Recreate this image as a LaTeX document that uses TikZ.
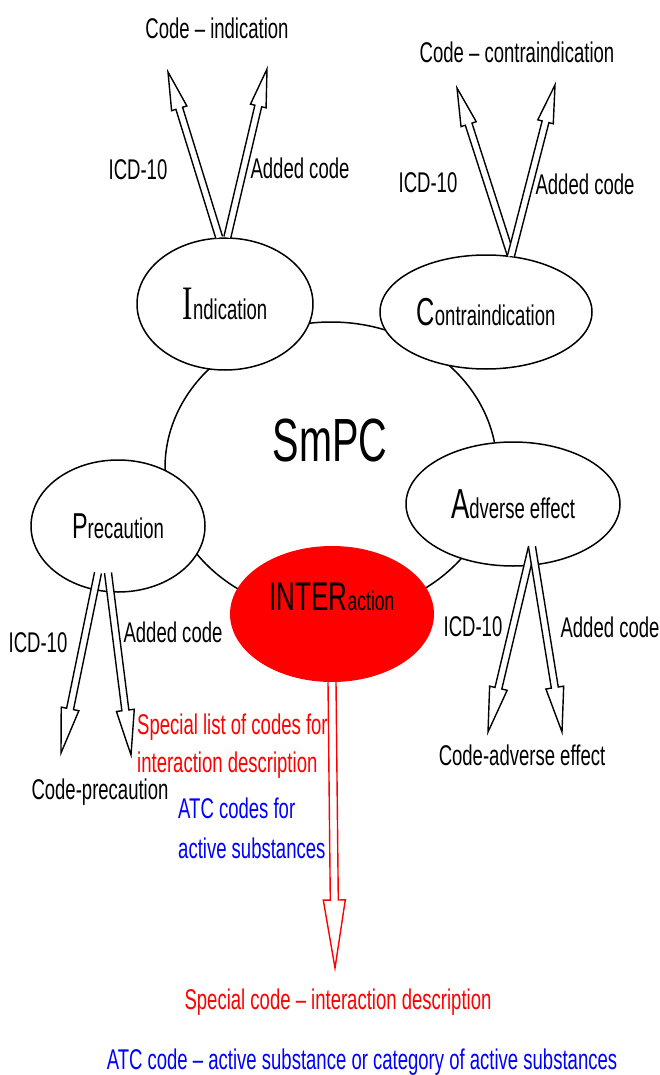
\documentclass[tikz,border=0pt]{standalone}
\usepackage{fontspec}
\setmainfont{Liberation Sans}[FakeStretch=0.65]
\newfontfamily\initserif{Liberation Serif}[FakeStretch=0.65]
\usetikzlibrary{shapes.geometric,calc}

\tikzset{
  oval/.style={ellipse, draw, fill=white, line width=1.5pt, inner sep=0pt,
    font=\fontsize{28.5}{34}\selectfont},
  lbl/.style={font=\fontsize{28.5}{34}\selectfont, inner sep=0pt},
  arrowline/.style={line width=1.4pt, fill=white, line join=miter},
}

% hollow arrow: [colour]{tail}{tip}{shaft half width}{head half width}{head length}
\newcommand{\openarrow}[6][black]{%
  \path (#2) coordinate (oa-t) (#3) coordinate (oa-h);
  \path ($(oa-h)!#6!(oa-t)$) coordinate (oa-s);
  \draw[arrowline, draw=#1]
    ($(oa-t)!#4!90:(oa-h)$) -- ($(oa-s)!#4!90:(oa-h)$) -- ($(oa-s)!#5!90:(oa-h)$)
    -- (oa-h) -- ($(oa-s)!#5!-90:(oa-h)$) -- ($(oa-s)!#4!-90:(oa-h)$)
    -- ($(oa-t)!#4!-90:(oa-h)$);
}

\begin{document}
\begin{tikzpicture}[x=1pt, y=-1pt]
  \useasboundingbox (0,0) rectangle (660,1075);

  \node[oval, minimum width=332pt, minimum height=292pt] (smpc) at (331,468) {};
  \node[font=\fontsize{61}{61}\selectfont, inner sep=0pt] (smpctext) at (330,440) {SmPC};

  \node[oval, minimum width=176pt, minimum height=132pt] (ind) at (225,304)
    {{\initserif\fontsize{48}{48}\selectfont I}ndication};
  \node[oval, minimum width=212pt, minimum height=114pt] (contra) at (486,312)
    {{\fontsize{39}{39}\selectfont C}ontraindication};
  \node[oval, minimum width=174pt, minimum height=132pt] (prec) at (118,526)
    {{\fontsize{36}{36}\selectfont P}recaution};
  \node[oval, minimum width=214pt, minimum height=124pt] (adv) at (513,504)
    {{\fontsize{42}{42}\selectfont A}dverse effect};
  \node[ellipse, fill=red, inner sep=0pt, minimum width=204pt, minimum height=136pt] (inter) at (332,614) {};
  \node[lbl, font=\fontsize{27}{34}\selectfont] (intertext) at (332,597) {{\fontsize{40}{40}\selectfont INTER}action};

  % targets
  \node[lbl] (codeind) at (217,28) {Code -- indication};
  \node[lbl] (codecontra) at (517,52) {Code -- contraindication};
  \node[lbl] (codeprec) at (100,792) {Code-precaution};
  \node[lbl] (codeadv) at (522,755) {Code-adverse effect};

  \coordinate (indL) at (168,72);
  \coordinate (indR) at (267,69);
  \coordinate (contraL) at (457,88);
  \coordinate (contraR) at (555,85);
  \coordinate (precL) at (61,753);
  \coordinate (precR) at (131,755);
  \coordinate (advL) at (488,732);
  \coordinate (advR) at (562,732);
  \coordinate (precfootL) at ($(prec.south)+(-20,-20)$);
  \coordinate (precfootR) at ($(prec.south)+(-10,-20)$);
  \coordinate (advfoot) at ($(adv.south)+(19,-20)$);
  \coordinate (specL) at (335,968);

  \openarrow{ind.95}{indL}{3.5pt}{8pt}{38pt}
  \openarrow{ind.88}{indR}{3.5pt}{8pt}{38pt}
  \openarrow{contra.66}{contraL}{3.5pt}{8pt}{38pt}
  \openarrow{contra.66}{contraR}{3.5pt}{8pt}{38pt}
  \openarrow{precfootL}{precL}{3.5pt}{9pt}{45pt}
  \openarrow{precfootR}{precR}{3.5pt}{9pt}{45pt}
  \openarrow{advfoot}{advL}{3.5pt}{9pt}{45pt}
  \openarrow{advfoot}{advR}{3.5pt}{9pt}{45pt}
  \openarrow[red]{inter.south}{specL}{4pt}{11pt}{68pt}

  \node[lbl] (icdind) at (138,170) {ICD-10};
  \node[lbl] (addind) at (300,168) {Added code};
  \node[lbl] (icdcontra) at (428,183) {ICD-10};
  \node[lbl] (addcontra) at (585,184) {Added code};
  \node[lbl] (icdprec) at (38,643) {ICD-10};
  \node[lbl] (addprec) at (173,632) {Added code};
  \node[lbl] (icdadv) at (473,627) {ICD-10};
  \node[lbl] (addadv) at (610,627) {Added code};

  \node[lbl, text=red, align=left, anchor=west, font=\fontsize{28.5}{38}\selectfont] (speclist) at (137,746)
    {Special list of codes for\\interaction description};
  \node[lbl, text=blue, align=left, anchor=west, font=\fontsize{28.5}{40}\selectfont] (atclist) at (178,828)
    {ATC codes for\\active substances};
  \node[lbl, text=red] (speccode) at (338,1002) {Special code -- interaction description};
  \node[lbl, text=blue] (atccode) at (362,1062) {ATC code -- active substance or category of active substances};
\end{tikzpicture}
\end{document}
